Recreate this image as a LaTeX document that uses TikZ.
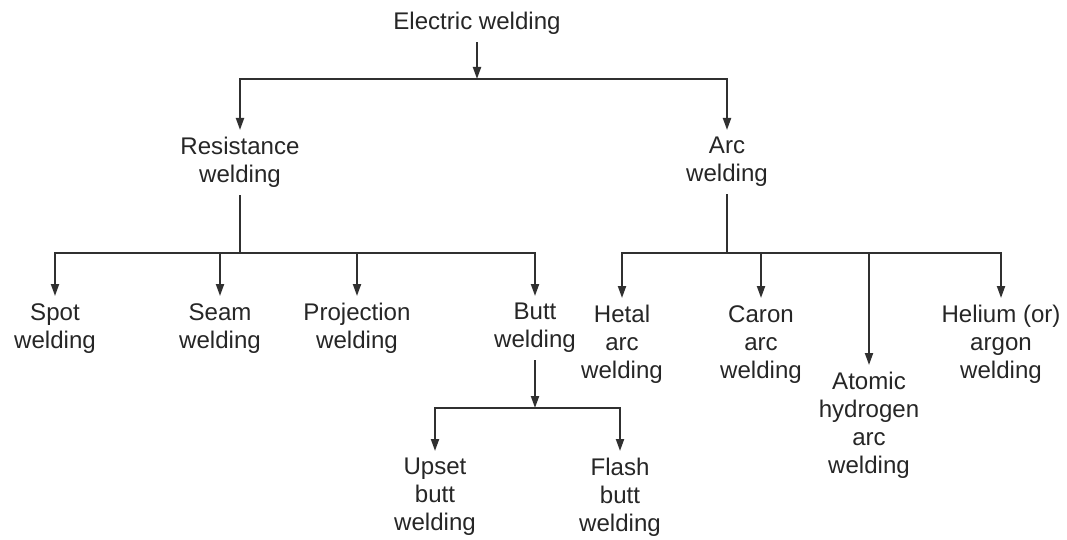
\documentclass[tikz,border=0pt]{standalone}
\usepackage{fontspec}
\setmainfont{Liberation Sans}
\usetikzlibrary{arrows.meta}
\definecolor{inkline}{HTML}{303030}
\definecolor{inktext}{HTML}{262626}

\begin{document}
\begin{tikzpicture}[
    x=0.02cm, y=-0.02cm,
    every node/.style={font=\fontsize{13.7}{15.9}\selectfont, text=inktext},
    kind/.style={align=center, anchor=north, inner sep=0.14cm},
    branch/.style={draw=inkline, line width=1.1pt},
    arrow/.style={branch, -{Triangle[length=2.4mm, width=1.6mm]}}
]
\useasboundingbox (0,0) rectangle (1067,540);

% Root
\node[kind] (elec) at (477,5) {Electric welding};
\coordinate (bar1) at (477,79);
\draw[arrow] (elec.south) -- (bar1);

% First level
\node[kind] (res) at (240,130) {Resistance\\welding};
\node[kind] (arc) at (727,130) {Arc\\welding};
\foreach \n in {res,arc}
  \draw[arrow] (bar1) -| (\n.north);

% Resistance welding types
\node[kind] (spot) at (55,296) {Spot\\welding};
\node[kind] (seam) at (220,296) {Seam\\welding};
\node[kind] (proj) at (357,296) {Projection\\welding};
\node[kind] (butt) at (535,296) {Butt\\welding};
\coordinate (bar2) at (240,253);
\draw[branch] (res.south) -- (bar2);
\foreach \n in {spot,seam,proj,butt}
  \draw[arrow] (bar2) -| (\n.north);

% Arc welding types
\node[kind] (hetal) at (622,298) {Hetal\\arc\\welding};
\node[kind] (caron) at (761,298) {Caron\\arc\\welding};
\node[kind] (atomic) at (869,365) {Atomic\\hydrogen\\arc\\welding};
\node[kind] (helium) at (1001,298) {Helium (or)\\argon\\welding};
\coordinate (bar3) at (727,253);
\draw[branch] (arc.south) -- (bar3);
\foreach \n in {hetal,caron,atomic,helium}
  \draw[arrow] (bar3) -| (\n.north);

% Butt welding types
\node[kind] (upset) at (435,451) {Upset\\butt\\welding};
\node[kind] (flash) at (620,451) {Flash\\butt\\welding};
\coordinate (bar4) at (535,408);
\draw[arrow] (butt.south) -- (bar4);
\foreach \n in {upset,flash}
  \draw[arrow] (bar4) -| (\n.north);

\end{tikzpicture}
\end{document}
